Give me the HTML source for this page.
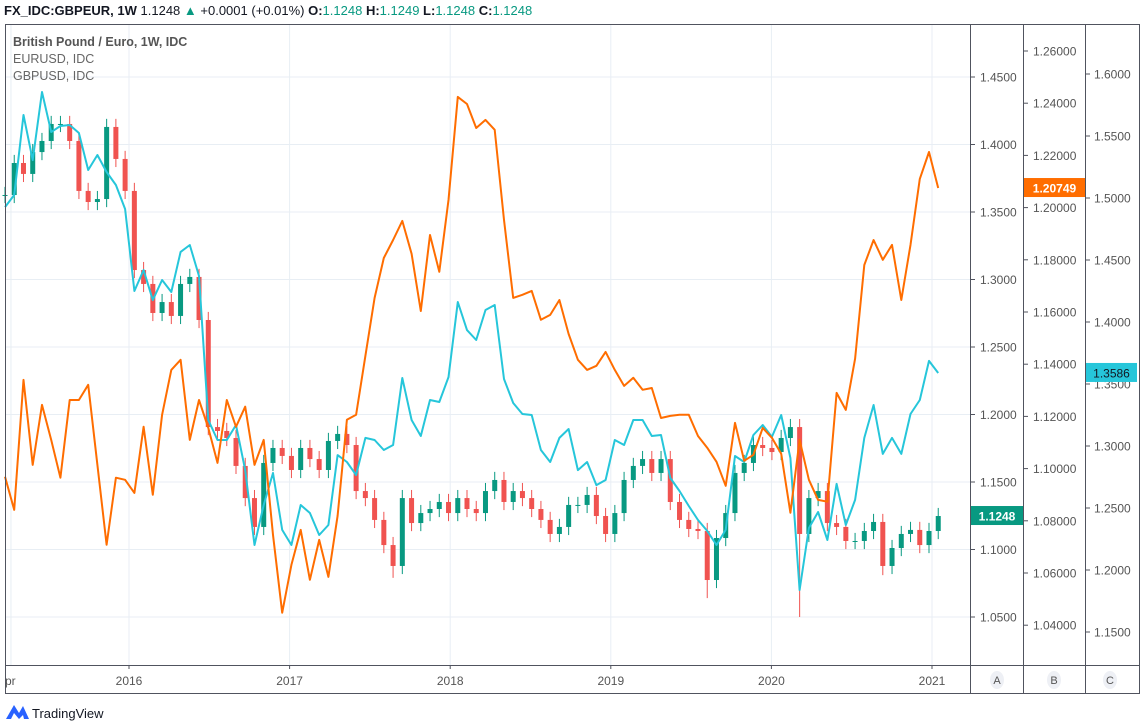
<!DOCTYPE html>
<html><head><meta charset="utf-8">
<style>
body{margin:0;width:1143px;height:722px;background:#fff;overflow:hidden;font-family:"Liberation Sans",sans-serif;}
svg{position:absolute;left:0;top:0}
</style></head>
<body>
<svg id="chart" width="1143" height="722" viewBox="0 0 1143 722">
  <g id="grid"></g>
  <g id="series"></g>
  <g id="frame"></g>
  <g id="axes"></g>
  <text x="4" y="15" font-size="13" fill="#131722"><tspan font-weight="bold">FX_IDC:GBPEUR, 1W</tspan> 1.1248 <tspan fill="#089981">▲</tspan> +0.0001 (+0.01%) <tspan font-weight="bold">O:</tspan><tspan fill="#089981">1.1248</tspan> <tspan font-weight="bold">H:</tspan><tspan fill="#089981">1.1249</tspan> <tspan font-weight="bold">L:</tspan><tspan fill="#089981">1.1248</tspan> <tspan font-weight="bold">C:</tspan><tspan fill="#089981">1.1248</tspan></text>
  <text x="13" y="46" font-size="12.5" fill="#555" font-weight="bold">British Pound / Euro, 1W, IDC</text>
  <text x="13" y="63" font-size="12.5" fill="#666">EURUSD, IDC</text>
  <text x="13" y="80" font-size="12.5" fill="#666">GBPUSD, IDC</text>
  <g>
    <path d="M6 719 L14 705 L19 713 L23 706 L29 719 L24 719 L23 715 L19 719 L14 713 L11 719 Z" fill="#2962ff"/>
    <text x="32" y="718" font-size="13" fill="#131722">TradingView</text>
  </g>
</svg>
<script>
const candleCloses=[1.3626,1.3863,1.3782,1.3944,1.4026,1.4152,1.4152,1.4026,1.3656,1.3574,1.3596,1.4130,1.3893,1.3656,1.3070,1.2967,1.2752,1.2833,1.2730,1.2967,1.3019,1.2700,1.1907,1.1878,1.1826,1.1619,1.1381,1.1167,1.1641,1.1752,1.1693,1.1589,1.1752,1.1670,1.1589,1.1804,1.1856,1.1774,1.1433,1.1381,1.1219,1.1033,1.0878,1.1381,1.1196,1.1270,1.1300,1.1352,1.1270,1.1381,1.1300,1.1270,1.1433,1.1515,1.1352,1.1433,1.1381,1.1300,1.1219,1.1115,1.1167,1.1330,1.1330,1.1404,1.1248,1.1115,1.1270,1.1515,1.1619,1.1670,1.1567,1.1670,1.1352,1.1219,1.1152,1.1137,1.0774,1.1085,1.1270,1.1567,1.1641,1.1774,1.1752,1.1722,1.1826,1.1907,1.1115,1.1381,1.1433,1.1196,1.1167,1.1063,1.1063,1.1137,1.1204,1.0878,1.1011,1.1115,1.1145,1.1033,1.1137,1.1248];
const candleSpikeLows={42:1.0790,76:1.0640,86:1.0500,95:1.0810};
const eurusd=[1.0969,1.0842,1.1340,1.1014,1.1244,1.1110,1.0965,1.1263,1.1263,1.1321,1.1014,1.0708,1.0965,1.0957,1.0907,1.1160,1.0900,1.1206,1.1378,1.1417,1.1110,1.1263,1.1156,1.1022,1.1263,1.1160,1.1237,1.1014,1.1110,1.0746,1.0448,1.0631,1.0765,1.0574,1.0727,1.0585,1.0819,1.1187,1.1206,1.1432,1.1654,1.1807,1.1876,1.1949,1.1823,1.1604,1.1895,1.1754,1.2029,1.2424,1.2397,1.2305,1.2336,1.2298,1.1953,1.1654,1.1666,1.1681,1.1570,1.1589,1.1646,1.1516,1.1417,1.1378,1.1394,1.1447,1.1378,1.1317,1.1348,1.1302,1.1309,1.1194,1.1202,1.1206,1.1206,1.1125,1.1080,1.1026,1.0934,1.1175,1.1030,1.1053,1.1156,1.1118,1.1057,1.0831,1.1110,1.0957,1.0880,1.0873,1.1290,1.1225,1.1421,1.1780,1.1876,1.1800,1.1857,1.1646,1.1857,1.2110,1.2213,1.2075];
const gbpusd=[1.4927,1.5024,1.5669,1.5306,1.5855,1.5532,1.5581,1.5589,1.5524,1.5226,1.5347,1.5210,1.5105,1.4911,1.4250,1.4419,1.4177,1.4339,1.4242,1.4565,1.4621,1.4371,1.3210,1.3048,1.3048,1.3169,1.2806,1.2202,1.2524,1.2782,1.2323,1.2202,1.2524,1.2460,1.2282,1.2363,1.2927,1.2871,1.2766,1.3065,1.3048,1.2968,1.3008,1.3548,1.3210,1.3081,1.3371,1.3355,1.3556,1.4161,1.3935,1.3855,1.4097,1.4137,1.3540,1.3347,1.3258,1.3250,1.2968,1.2871,1.3065,1.3137,1.2806,1.2871,1.2685,1.2726,1.3048,1.3008,1.3210,1.3210,1.3081,1.3089,1.2742,1.2637,1.2516,1.2403,1.2315,1.2202,1.2323,1.2919,1.2871,1.3089,1.3169,1.3073,1.3250,1.2903,1.1839,1.2339,1.2468,1.2242,1.2694,1.2363,1.2565,1.3065,1.3331,1.2936,1.3065,1.2936,1.3258,1.3371,1.3686,1.3589];
const ticksA=["1.4500","1.4000","1.3500","1.3000","1.2500","1.2000","1.1500","1.1000","1.0500"];
const ticksB=["1.26000","1.24000","1.22000","1.20000","1.18000","1.16000","1.14000","1.12000","1.10000","1.08000","1.06000","1.04000"];
const ticksC=["1.6000","1.5500","1.5000","1.4500","1.4000","1.3500","1.3000","1.2500","1.2000","1.1500"];
const yearLabels=["2016","2017","2018","2019","2020","2021"];
const STEP_WEEKS=3;

const NS="http://www.w3.org/2000/svg";
function mk(parent,tag,attrs){const e=document.createElementNS(NS,tag);for(const k in attrs)e.setAttribute(k,attrs[k]);parent.appendChild(e);return e;}
const yA=v=>77+(1.45-v)/0.05*67.5;
const yB=v=>51+(1.26-v)/0.02*52.2;
const yC=v=>74+(1.60-v)/0.05*62;
const xW=w=>5+w*3.08;
const xYear=y=>129+(y-2016)*160.6;
const grid=document.getElementById('grid'),series=document.getElementById('series'),frame=document.getElementById('frame'),axes=document.getElementById('axes');

// grid
ticksA.forEach(t=>{const l=mk(grid,'line',{x1:5,x2:970,y1:yA(+t),y2:yA(+t),stroke:'#e8eef4','stroke-width':1});

});
[2015.265].concat(yearLabels.map(Number)).forEach(y=>{const l=mk(grid,'line',{x1:xYear(y),x2:xYear(y),y1:24,y2:665,stroke:'#e8eef4','stroke-width':1});

});

// candles
candleCloses.forEach((c,i)=>{
  const o=i===0?c:candleCloses[i-1];
  const up=c>=o;const col=up?'#089981':'#f05350';
  const x=xW(i*STEP_WEEKS);
  const hi=Math.max(o,c)+0.006;let lo=Math.min(o,c)-0.006;
  if(candleSpikeLows[i]!==undefined)lo=candleSpikeLows[i];
  const g=mk(series,'g',{});
  
  
  mk(g,'line',{x1:x,x2:x,y1:yA(hi),y2:yA(lo),stroke:col,'stroke-width':1});
  const y1=yA(Math.max(o,c)),y2=yA(Math.min(o,c));
  mk(g,'rect',{x:x-2.5,y:y1,width:5,height:Math.max(1,y2-y1),fill:col});
});
function line(arr,fy,col,name){
  const d=arr.map((v,i)=>(i?'L':'M')+xW(i*STEP_WEEKS).toFixed(1)+' '+fy(v).toFixed(1)).join(' ');
  const p=mk(series,'path',{d:d,fill:'none',stroke:col,'stroke-width':2,'stroke-linejoin':'round'});
  
  
}
line(gbpusd,yC,'#26c6da','gbpusd-line');
line(eurusd,yB,'#ff6d00','eurusd-line');

// frame
const fr=mk(frame,'rect',{x:5.5,y:24.5,width:1134,height:669,fill:'none',stroke:'#50535e','stroke-width':1});


[970.5,1023.5,1085.5].forEach(x=>{const l=mk(frame,'line',{x1:x,x2:x,y1:24,y2:694,stroke:'#50535e','stroke-width':1});

});
const ts=mk(frame,'line',{x1:5,x2:1140,y1:665.5,y2:665.5,stroke:'#50535e','stroke-width':1});



function ticks(list,fy,x0,xl,name){list.forEach(t=>{const y=fy(+t);
  mk(axes,'line',{x1:x0,x2:x0+4,y1:y,y2:y,stroke:'#50535e','stroke-width':1});
  const tx=mk(axes,'text',{x:xl,y:y+4.5,'font-size':12,fill:'#555'});tx.textContent=t;
  
  });}
ticks(ticksA,yA,971,980,'axis-a-tick');
ticks(ticksB,yB,1024,1033,'axis-b-tick');
ticks(ticksC,yC,1086,1094,'axis-c-tick');

function badge(x,y,w,bg,fg,txt,name,bold){const g=mk(axes,'g',{});
  
  
  mk(g,'rect',{x:x,y:y-10,width:w,height:19,fill:bg});
  const t=mk(g,'text',{x:x+w/2,y:y+4.5,'font-size':12,fill:fg,'text-anchor':'middle','font-weight':bold?'bold':'normal'});t.textContent=txt;}
badge(971,yA(candleCloses[candleCloses.length-1]),52,'#089981','#fff','1.1248','last-price-gbpeur',true);
badge(1024,yB(eurusd[eurusd.length-1]),61,'#ff6d00','#fff','1.20749','last-price-eurusd',true);
badge(1086,yC(gbpusd[gbpusd.length-1]),51,'#26c6da','#131722','1.3586','last-price-gbpusd',false);

// time axis
yearLabels.forEach(y=>{const x=xYear(+y);
  mk(axes,'line',{x1:x,x2:x,y1:665,y2:669,stroke:'#50535e'});
  const t=mk(axes,'text',{x:x,y:685,'font-size':12,fill:'#555','text-anchor':'middle'});t.textContent=y;
  
  });
const apr=mk(axes,'text',{x:5,y:685,'font-size':12,fill:'#555'});apr.textContent='pr';


[['A',997],['B',1054],['C',1110]].forEach(([l,x])=>{const g=mk(axes,'g',{});
  
  
  mk(g,'ellipse',{cx:x,cy:680,rx:7,ry:9,fill:'#eef0f5'});
  const t=mk(g,'text',{x:x,y:684,'font-size':11,fill:'#555','text-anchor':'middle'});t.textContent=l;});
</script>
</body></html>
